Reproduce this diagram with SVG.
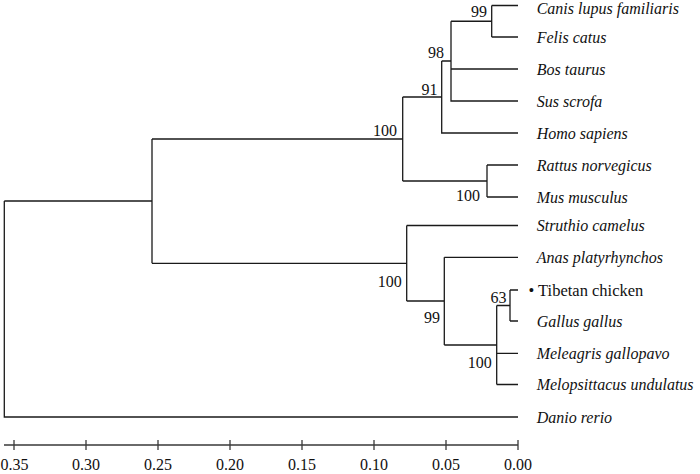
<svg xmlns="http://www.w3.org/2000/svg" width="700" height="474" viewBox="0 0 700 474">
<style>
.ln{stroke:#1a1a1a;stroke-width:1.3;fill:none}
.ax{stroke:#3a3a3a;stroke-width:1.3;fill:none}
text{font-family:'Liberation Serif','Times New Roman',serif;fill:#111}
.sp{font-size:16px;font-style:italic}
.tb{font-size:16.5px}
.bs{font-size:16px;text-anchor:end}
.al{font-size:16px;text-anchor:middle}
</style>
<rect width="700" height="474" fill="#fff"/>
<g id="connectors">
<path class="ln" d="M4.3,201 V417 H518"/>
<path class="ln" d="M4.3,201 H152 M152,139 V263.3"/>
<path class="ln" d="M152,139 H402.7 M402.7,97 V181"/>
<path class="ln" d="M402.7,97 H441.7 M441.7,61 V133 H518"/>
<path class="ln" d="M441.7,61 H451 M451,21.25 V101 H518 M451,69 H518"/>
<path class="ln" d="M451,21.25 H491.7 M491.7,5.5 V37 M491.7,5.5 H518 M491.7,37 H518"/>
<path class="ln" d="M402.7,181 H487 M487,165 V197 M487,165 H518 M487,197 H518"/>
<path class="ln" d="M152,263.3 H406.7 M406.7,225.5 V301 M406.7,225.5 H518"/>
<path class="ln" d="M406.7,301 H444.3 M444.3,257.3 V345 M444.3,257.3 H518"/>
<path class="ln" d="M444.3,345 H496.7 M496.7,305.5 V384.5 M496.7,353.3 H518 M496.7,384.5 H518"/>
<path class="ln" d="M496.7,305.5 H510 M510,290 V321 M510,290 H518 M510,321 H518"/>
</g>
<g id="bootstrap">
<text class="bs" x="487" y="17">99</text>
<text class="bs" x="444" y="58.3">98</text>
<text class="bs" x="437.5" y="94.5">91</text>
<text class="bs" x="397" y="136">100</text>
<text class="bs" x="480" y="201">100</text>
<text class="bs" x="401.7" y="286.7">100</text>
<text class="bs" x="440" y="323.3">99</text>
<text class="bs" x="491.7" y="368.3">100</text>
<text class="bs" x="506.5" y="302.5">63</text>
</g>
<g id="leaf-canis"><text class="sp" x="536.7" y="14.3">Canis lupus familiaris</text></g>
<g id="leaf-felis"><text class="sp" x="536.7" y="42.5">Felis catus</text></g>
<g id="leaf-bos"><text class="sp" x="536.7" y="74.5">Bos taurus</text></g>
<g id="leaf-sus"><text class="sp" x="536.7" y="106.5">Sus scrofa</text></g>
<g id="leaf-homo"><text class="sp" x="536.7" y="138.5">Homo sapiens</text></g>
<g id="leaf-rattus"><text class="sp" x="536.7" y="170.5">Rattus norvegicus</text></g>
<g id="leaf-mus"><text class="sp" x="536.7" y="202.5">Mus musculus</text></g>
<g id="leaf-struthio"><text class="sp" x="536.7" y="231">Struthio camelus</text></g>
<g id="leaf-anas"><text class="sp" x="536.7" y="262.8">Anas platyrhynchos</text></g>
<g id="leaf-tibetan"><text class="tb" x="528.5" y="295.5">• Tibetan chicken</text></g>
<g id="leaf-gallus"><text class="sp" x="536.7" y="326.5">Gallus gallus</text></g>
<g id="leaf-meleagris"><text class="sp" x="536.7" y="358.8">Meleagris gallopavo</text></g>
<g id="leaf-melopsittacus"><text class="sp" x="536.7" y="390">Melopsittacus undulatus</text></g>
<g id="leaf-danio"><text class="sp" x="536.7" y="422.5">Danio rerio</text></g>
<g id="axis">
<path class="ax" d="M4,445 H518 M14,440 V450 M86,440 V450 M158,440 V450 M230,440 V450 M302,440 V450 M374,440 V450 M446,440 V450 M518,440 V450"/>
<text class="al" x="14.6" y="470">0.35</text>
<text class="al" x="86" y="470">0.30</text>
<text class="al" x="158" y="470">0.25</text>
<text class="al" x="230" y="470">0.20</text>
<text class="al" x="302" y="470">0.15</text>
<text class="al" x="374" y="470">0.10</text>
<text class="al" x="446" y="470">0.05</text>
<text class="al" x="518" y="470">0.00</text>
</g>
</svg>
